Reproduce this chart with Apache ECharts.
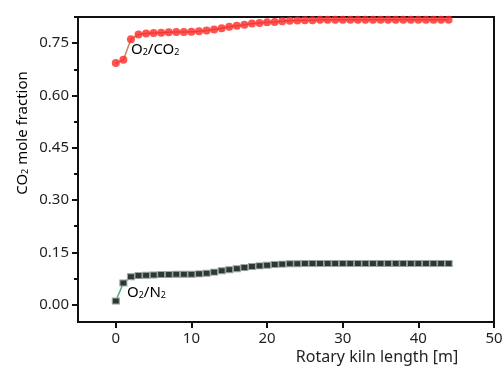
<!DOCTYPE html>
<html>
<head>
<meta charset="utf-8">
<script src="https://cdn.jsdelivr.net/npm/echarts@6/dist/echarts.min.js"></script>
<style>html,body{margin:0;padding:0;background:#fff}#c{width:504px;height:374px}</style>
</head>
<body>
<div id="c"></div>
<script>
const kilnLength = [0,1,2,3,4,5,6,7,8,9,10,11,12,13,14,15,16,17,18,19,20,21,22,23,24,25,26,27,28,29,30,31,32,33,34,35,36,37,38,39,40,41,42,43,44];
const oxyCO2 = [0.693,0.702,0.761,0.775,0.778,0.779,0.780,0.781,0.782,0.782,0.783,0.784,0.786,0.789,0.793,0.797,0.800,0.803,0.806,0.808,0.810,0.811,0.813,0.814,0.815,0.816,0.816,0.817,0.817,0.817,0.817,0.817,0.817,0.817,0.817,0.817,0.817,0.817,0.817,0.817,0.817,0.817,0.817,0.817,0.817];
const oxyN2 = [0.010,0.062,0.080,0.083,0.084,0.085,0.086,0.086,0.087,0.087,0.087,0.088,0.090,0.093,0.097,0.100,0.103,0.106,0.109,0.111,0.113,0.115,0.116,0.117,0.117,0.118,0.118,0.118,0.118,0.118,0.118,0.118,0.118,0.118,0.118,0.118,0.118,0.118,0.118,0.118,0.118,0.118,0.118,0.118,0.118];
const xTickValues = [0,10,20,30,40,50];
const yTickValues = [0,0.15,0.30,0.45,0.60,0.75];
const yMinorTickValues = [0.075,0.225,0.375,0.525,0.675,0.825];

const FONT = 'Noto Sans';
const TXT = '#231f20';
const chart = echarts.init(document.getElementById('c'), null, {renderer:'canvas'});
const pair = (xs, ys) => xs.map((x,i)=>[x, ys[i]]);
const rich = {
  b:{fontFamily:FONT,fontSize:15,color:TXT,lineHeight:22,verticalAlign:'bottom'},
  s:{fontFamily:FONT,fontSize:9,color:TXT,lineHeight:9,verticalAlign:'bottom'}
};
chart.setOption({
  animation:false,
  grid:{left:78,right:10,top:17,bottom:52,show:true,borderColor:'#111',borderWidth:2,backgroundColor:'transparent',containLabel:false,outerBoundsMode:'none'},
  xAxis:{
    type:'value',min:-5,max:50,
    axisLine:{show:true,onZero:false,lineStyle:{color:'#111',width:2}},
    axisTick:{show:true,length:6,lineStyle:{color:'#111',width:2},customValues:xTickValues},
    axisLabel:{fontFamily:FONT,fontSize:15,color:TXT,margin:9,customValues:xTickValues},
    splitLine:{show:false}
  },
  yAxis:[{
    type:'value',min:-0.05,max:0.825,
    axisLine:{show:true,onZero:false,lineStyle:{color:'#111',width:2}},
    axisTick:{show:true,length:6,lineStyle:{color:'#111',width:2},customValues:yTickValues},
    axisLabel:{fontFamily:FONT,fontSize:15,color:TXT,margin:9,customValues:yTickValues,formatter:v=>v.toFixed(2)},
    splitLine:{show:false}
  },{
    type:'value',min:-0.05,max:0.825,position:'left',offset:0,
    axisLine:{show:false,onZero:false},
    axisTick:{show:true,length:4,lineStyle:{color:'#111',width:2},customValues:yMinorTickValues},
    axisLabel:{show:false},splitLine:{show:false}
  }],
  series:[{
    type:'line',name:'O2/CO2',data:pair(kilnLength,oxyCO2),
    lineStyle:{color:'#c8895c',width:1.5},
    symbol:'circle',symbolSize:8,
    itemStyle:{color:'rgba(255,40,40,0.8)',borderWidth:0}
  },{
    type:'line',name:'O2/N2',data:pair(kilnLength,oxyN2),
    lineStyle:{color:'#4fa878',width:1.5},
    symbol:'rect',symbolSize:[7,6],
    itemStyle:{color:'#2e3833',borderColor:'#9aa5a0',borderWidth:1}
  }],
  graphic:[
    {type:'text',left:131,top:42,style:{text:'{b|O}{s|2}{b|/CO}{s|2}',rich:rich}},
    {type:'text',left:127,top:285,style:{text:'{b|O}{s|2}{b|/N}{s|2}',rich:rich}},
    {type:'text',x:19,y:133,rotation:Math.PI/2,style:{text:'{b|CO}{s|2}{b| mole fraction}',rich:rich,align:'center',verticalAlign:'middle'}},
    {type:'text',x:377,y:357,style:{text:'Rotary kiln length [m]',fontFamily:FONT,fontSize:16,fill:TXT,align:'center',verticalAlign:'middle'}}
  ]
});
</script>
</body>
</html>
